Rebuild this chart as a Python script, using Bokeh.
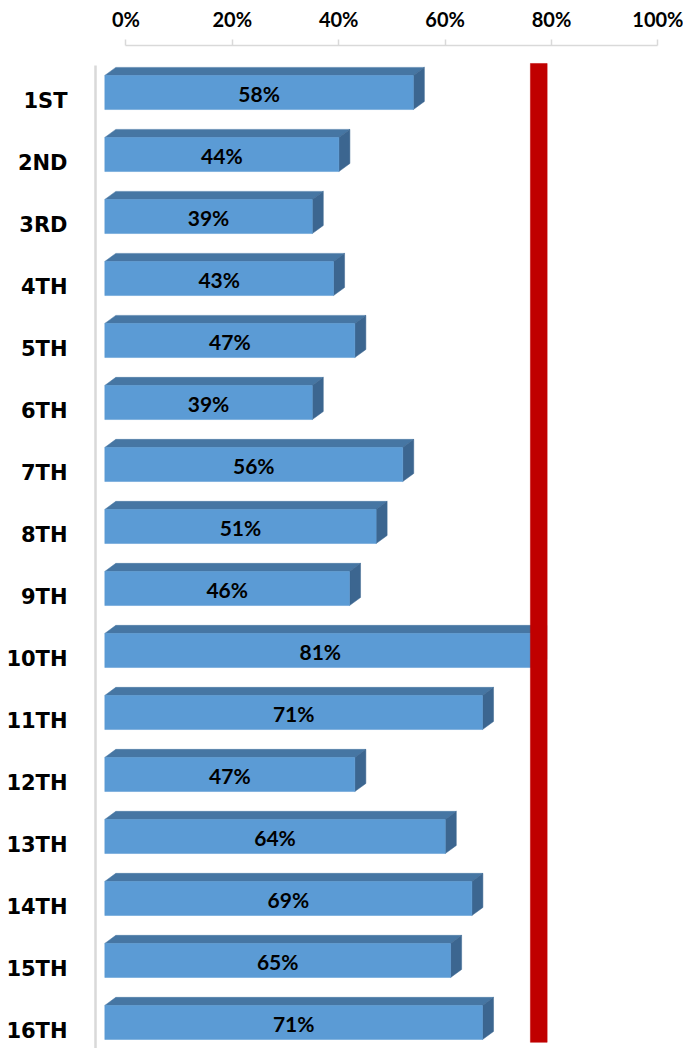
from bokeh.plotting import figure
from bokeh.models import Range1d, LinearAxis, FixedTicker, ColumnDataSource
from bokeh.core.properties import value
from bokeh.embed import file_html
from bokeh.resources import INLINE

# ---- data ----
categories = ["1ST", "2ND", "3RD", "4TH", "5TH", "6TH", "7TH", "8TH",
              "9TH", "10TH", "11TH", "12TH", "13TH", "14TH", "15TH", "16TH"]
values = [58, 44, 39, 43, 47, 39, 56, 51, 46, 81, 71, 47, 64, 69, 65, 71]
target = 80
tick_values = [0, 20, 40, 60, 80, 100]
tick_labels = ["0%", "20%", "40%", "60%", "80%", "100%"]

# ---- style / geometry ----
FRONT = "#5B9BD5"
TOP = "#4676A3"
SIDE = "#3C6690"
RED = "#C00000"
FONT = "Lato"
bar_h = 0.55          # front face height (row units)
dx = 2.07             # depth offset in x (value units)
dy = 0.13             # depth offset in y (row units, upward)
red_w = 3.15          # width of the target bar (value units)

p = figure(width=683, height=1048, output_backend="svg", toolbar_location=None,
           x_range=Range1d(-1.75, 108.78), y_range=Range1d(15.42, -0.758),
           min_border_left=95, min_border_top=45, min_border_right=0, min_border_bottom=0)
p.xaxis.visible = False
p.yaxis.visible = False
p.xgrid.visible = False
p.ygrid.visible = False
p.outline_line_color = None
p.background_fill_color = "white"
p.border_fill_color = "white"

# extra ranges for shifted axes (3D offset)
p.extra_x_ranges = {"axis": Range1d(-5.71, 104.81)}
p.extra_y_ranges = {"lab": Range1d(15.277, -0.895)}

top_axis = LinearAxis(x_range_name="axis", ticker=FixedTicker(ticks=tick_values),
                      bounds=(0, 100))
top_axis.major_label_overrides = {v: l for v, l in zip(tick_values, tick_labels)}
top_axis.axis_line_color = "#D9D9D9"
top_axis.axis_line_width = 1.5
top_axis.major_tick_line_color = "#D9D9D9"
top_axis.major_tick_line_width = 1.5
top_axis.major_tick_out = 6
top_axis.major_tick_in = 0
top_axis.minor_tick_line_color = None
top_axis.major_label_standoff = 9
top_axis.major_label_text_font = FONT
top_axis.major_label_text_font_style = "bold"
top_axis.major_label_text_font_size = "20px"
top_axis.major_label_text_color = "black"
p.add_layout(top_axis, "above")

rows = list(range(len(categories)))
left_axis = LinearAxis(y_range_name="lab", ticker=FixedTicker(ticks=rows),
                       bounds=(-0.572, 15.277))
left_axis.major_label_overrides = {i: c for i, c in zip(rows, categories)}
left_axis.axis_line_color = "#D9D9D9"
left_axis.axis_line_width = 2.5
left_axis.major_tick_line_color = None
left_axis.minor_tick_line_color = None
left_axis.major_tick_out = 0
left_axis.major_tick_in = 0
left_axis.major_label_standoff = 28
left_axis.major_label_text_font = "DejaVu Sans"
left_axis.major_label_text_font_style = "bold"
left_axis.major_label_text_font_size = "21px"
left_axis.major_label_text_color = "black"
p.add_layout(left_axis, "left")

# ---- 3D bars ----
top_xs, top_ys, side_xs, side_ys = [], [], [], []
for i, v in zip(rows, values):
    yt = i - bar_h / 2
    yb = i + bar_h / 2
    top_xs.append([0, v, v + dx, dx])
    top_ys.append([yt, yt, yt - dy, yt - dy])
    side_xs.append([v, v + dx, v + dx, v])
    side_ys.append([yt, yt - dy, yb - dy, yb])

p.patches(top_xs, top_ys, fill_color=TOP, line_color=TOP, line_width=0.5)
p.patches(side_xs, side_ys, fill_color=SIDE, line_color=SIDE, line_width=0.5)

src = ColumnDataSource(dict(y=rows, v=values, mid=[v / 2 for v in values],
                            lab=[f"{v}%" for v in values]))
p.hbar(y="y", left=0, right="v", height=bar_h, source=src,
       fill_color=FRONT, line_color=FRONT, line_width=0.5)

# target bar
p.quad(left=[target], right=[target + red_w], top=[-0.468], bottom=[15.32],
       fill_color=RED, line_color=RED, line_width=0.5)

# data labels
p.text(x="mid", y="y", text="lab", source=src, text_align="center",
       text_baseline="middle", y_offset=1, text_font=value(FONT),
       text_font_style="bold", text_font_size="21px", text_color="black")

open("out.html", "w").write(file_html(p, INLINE))
